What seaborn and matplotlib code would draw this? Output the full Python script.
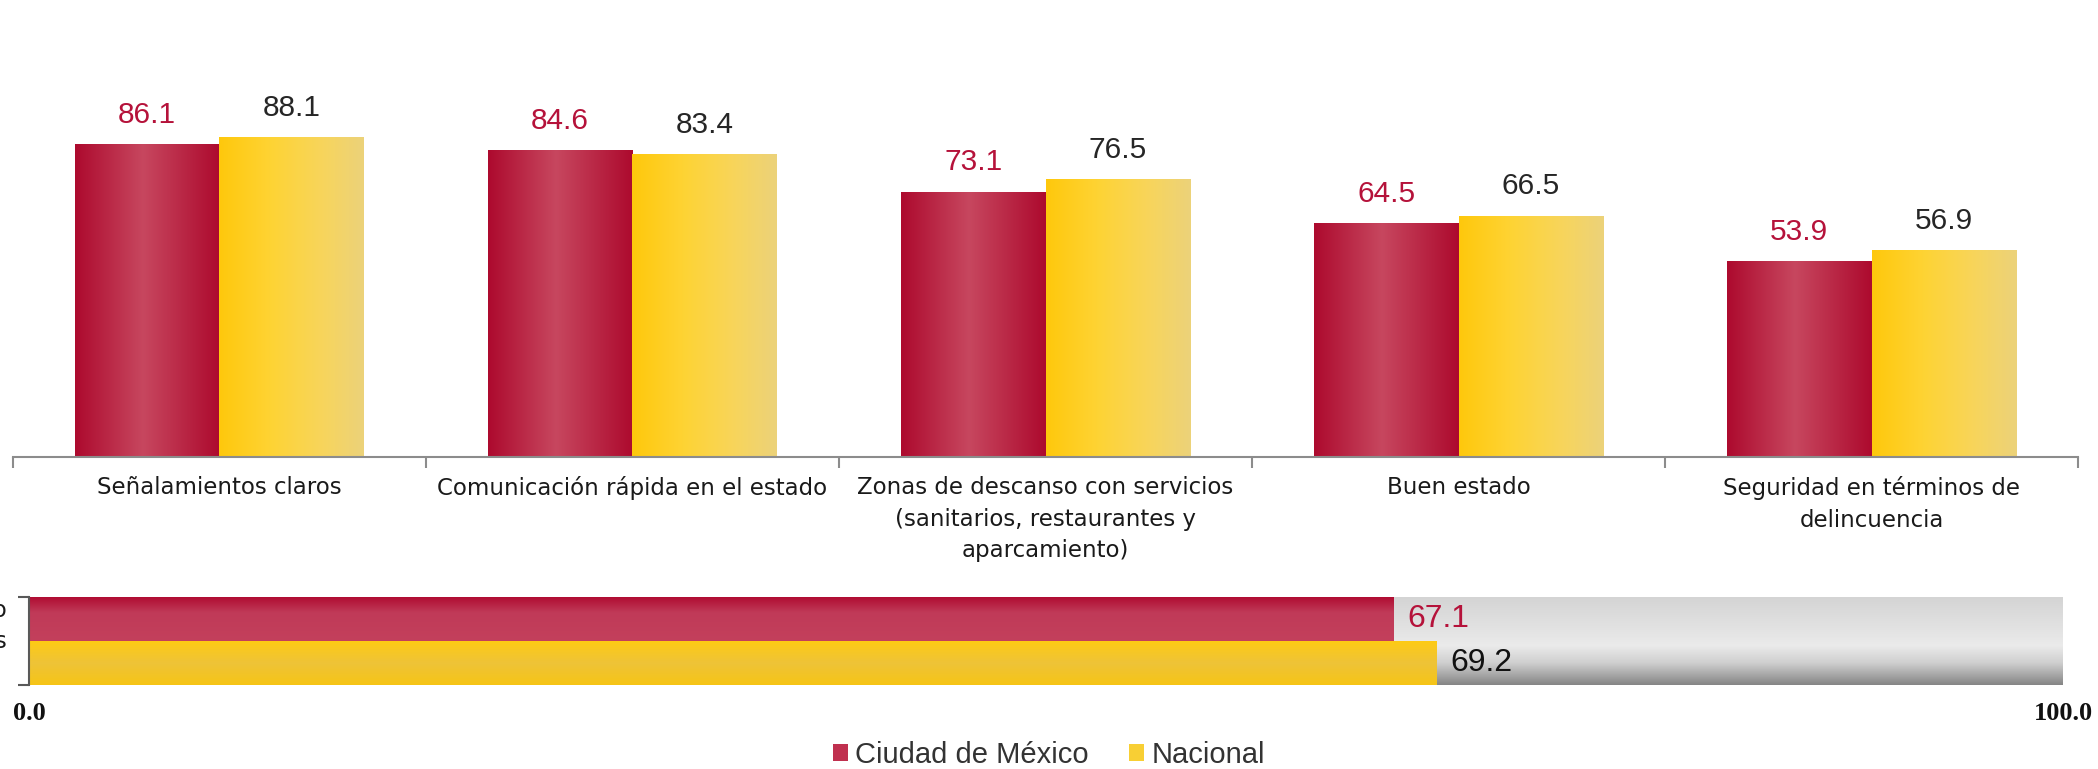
import numpy as np
import pandas as pd
import matplotlib
matplotlib.use("Agg")
import matplotlib.pyplot as plt
import seaborn as sns
from matplotlib.colors import LinearSegmentedColormap

# ---------------- data ----------------
categorias = ["Señalamientos claros",
              "Comunicación rápida en el estado",
              "Zonas de descanso con servicios\n(sanitarios, restaurantes y\naparcamiento)",
              "Buen estado",
              "Seguridad en términos de\ndelincuencia"]
series = ["Ciudad de México", "Nacional"]
valores_cdmx = [86.1, 84.6, 73.1, 64.5, 53.9]
valores_nacional = [88.1, 83.4, 76.5, 66.5, 56.9]
promedio_etiqueta = "Promedio\nde aspectos"
promedio_valores = [67.1, 69.2]
eje_inferior_ticks = [0, 100]
eje_inferior_etiquetas = ["0.0", "100.0"]

df = pd.DataFrame({
    "categoria": categorias * 2,
    "serie": [series[0]] * len(categorias) + [series[1]] * len(categorias),
    "valor": valores_cdmx + valores_nacional,
})
df2 = pd.DataFrame({"serie": series, "valor": promedio_valores})

# ---------------- style ----------------
sns.set_theme(style="white")
plt.rcParams["font.family"] = ["Liberation Sans", "DejaVu Sans"]

RED = "#c0304f"
YEL = "#f8cf34"
RED_TXT = "#b5123a"
DARK_TXT = "#262626"

W, H = 2098, 769
fig = plt.figure(figsize=(W / 100, H / 100), dpi=100)
ax1 = fig.add_axes([13 / W, 312 / H, (2078 - 13) / W, 363 / H])
ax2 = fig.add_axes([29 / W, 84 / H, (2063 - 29) / W, 88 / H])


def grad(stops, n=256, vertical=False):
    cmap = LinearSegmentedColormap.from_list("g", stops)
    arr = cmap(np.linspace(0, 1, n))
    return arr[:, None, :] if vertical else arr[None, :, :]


# ---------------- top chart ----------------
sns.barplot(data=df, x="categoria", y="valor", hue="serie", order=categorias,
            hue_order=series, palette=[RED, YEL], width=0.7, gap=0,
            saturation=1, linewidth=0, ax=ax1, legend=True)

red_h = grad([(0, "#ad0a2e"), (0.47, "#c7475f"), (1, "#ad0a2e")])
yel_h = grad([(0, "#ffc80c"), (0.35, "#fed333"), (0.7, "#f8d55a"), (1, "#ecd27a")])
for cont, g, tc in zip(ax1.containers, [red_h, yel_h], [RED_TXT, DARK_TXT]):
    for bar in cont:
        x0, y0 = bar.get_x(), bar.get_y()
        w, h = bar.get_width(), bar.get_height()
        im = ax1.imshow(g, extent=[x0, x0 + w, y0, y0 + h], aspect="auto",
                        interpolation="bicubic", zorder=bar.get_zorder() + 0.1)
        im.set_clip_path(bar)
    ax1.bar_label(cont, fmt="%.1f", padding=11, fontsize=21.5, color=tc)

ax1.set_xlim(-0.5, len(categorias) - 0.5)
ax1.set_ylim(0, 100)
ax1.set_yticks([])
ax1.set_xlabel("")
ax1.set_ylabel("")
for s in ["left", "top", "right"]:
    ax1.spines[s].set_visible(False)
ax1.spines["bottom"].set_color("#8c8c8c")
ax1.spines["bottom"].set_linewidth(1.5)
ax1.set_xticks(np.arange(-0.5, len(categorias), 1), minor=True)
ax1.tick_params(axis="x", which="minor", length=8, width=1.5, color="#8c8c8c",
                direction="out", bottom=True)
ax1.tick_params(axis="x", which="major", length=0, pad=14)
for lab in ax1.get_xticklabels():
    lab.set_fontfamily("DejaVu Sans")
    lab.set_fontsize(16.5)
    lab.set_color("#1a1a1a")
    lab.set_linespacing(1.45)

handles, labels = ax1.get_legend_handles_labels()
if ax1.get_legend() is not None:
    ax1.get_legend().remove()

# ---------------- bottom chart ----------------
bg = grad([(0, "#d4d4d4"), (0.45, "#e6e6e6"), (0.55, "#ebebeb"),
           (0.75, "#cfcfcf"), (1, "#858585")], vertical=True)
ax2.imshow(bg, extent=[0, 100, 1.5, -0.5], aspect="auto",
           interpolation="bicubic", zorder=0.2)

sns.barplot(data=df2, x="valor", y="serie", hue="serie", order=series,
            hue_order=series, palette=[RED, YEL], width=1.0, orient="h",
            saturation=1, linewidth=0, ax=ax2, legend=False)

red_v = grad([(0, "#b00c32"), (0.35, "#c03a58"), (1, "#c3405c")], vertical=True)
yel_v = grad([(0, "#fecb14"), (0.5, "#eec338"), (1, "#f6c516")], vertical=True)
for cont, g, tc in zip(ax2.containers, [red_v, yel_v], [RED_TXT, "#111111"]):
    for bar in cont:
        x0, y0 = bar.get_x(), bar.get_y()
        w, h = bar.get_width(), bar.get_height()
        if w <= 0:
            continue
        im = ax2.imshow(g, extent=[x0, x0 + w, y0 + h, y0], aspect="auto",
                        interpolation="bicubic", zorder=bar.get_zorder() + 0.1)
        im.set_clip_path(bar)
    ax2.bar_label(cont, fmt="%.1f", padding=10, fontsize=23, color=tc)

ax2.set_xlim(0, 100)
ax2.set_ylim(1.5, -0.5)
ax2.set_xlabel("")
ax2.set_ylabel("")
ax2.set_yticks([])
ax2.set_yticks([-0.5, 1.5], minor=True)
ax2.tick_params(axis="y", which="minor", length=8, width=1.5, color="#595959",
                direction="out", left=True, labelleft=False)
for s in ["top", "right", "bottom"]:
    ax2.spines[s].set_visible(False)
ax2.spines["left"].set_color("#595959")
ax2.spines["left"].set_linewidth(1.5)
ax2.set_xticks(eje_inferior_ticks)
ax2.set_xticklabels(eje_inferior_etiquetas)
ax2.tick_params(axis="x", length=0, pad=12)
for lab in ax2.get_xticklabels():
    lab.set_fontfamily("Liberation Serif")
    lab.set_fontweight("bold")
    lab.set_fontsize(19)
    lab.set_color("#111111")

fig.text(7 / W, 1 - 626 / H, promedio_etiqueta, ha="right", va="center",
         fontsize=16.5, color="#1a1a1a", linespacing=1.45, family="DejaVu Sans")

# ---------------- legend ----------------
fig.legend(handles, labels, loc="center", bbox_to_anchor=(0.5, 14 / H),
           ncol=2, frameon=False, fontsize=21, handlelength=0.5,
           handleheight=0.5, handletextpad=0.25, columnspacing=1.4,
           labelcolor="#333333", borderpad=0.1)

fig.savefig("out.png", dpi=100)
